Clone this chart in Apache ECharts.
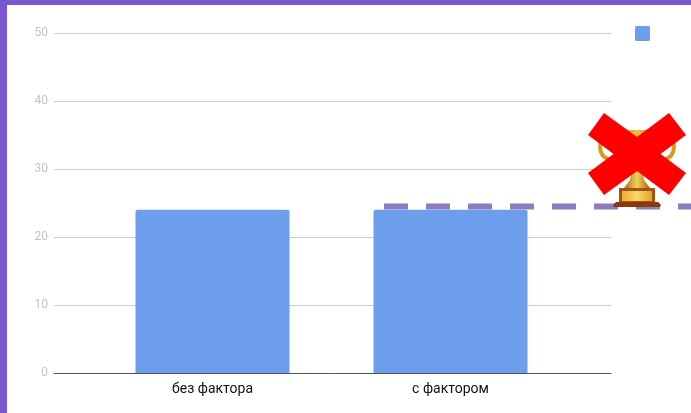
<!DOCTYPE html>
<html><head><meta charset="utf-8">
<style>html,body{margin:0;padding:0;background:#fff}#c{width:691px;height:413px}</style>
<script src="https://cdn.jsdelivr.net/npm/echarts@6/dist/echarts.min.js"></script>
</head><body><div id="c"></div>
<script>
const categories = ['без фактора', 'с фактором'];
const barValues = [24, 24];
const targetValue = 24.5;
const yMax = 50;
const yInterval = 10;

const chart = echarts.init(document.getElementById('c'), null, {renderer: 'canvas'});
const gold = (a, b, c) => ({type: 'linear', x: 0, y: 0, x2: 1, y2: 0, colorStops: [
  {offset: 0, color: a}, {offset: 0.5, color: b}, {offset: 1, color: c}]});
const poly = (points, fill) => ({type: 'polygon', shape: {points}, style: {fill}, silent: true, z: 20});
const curve = (points) => ({type: 'polyline', shape: {points, smooth: 0.5},
  style: {stroke: '#d79a1c', lineWidth: 4, fill: 'none'}, silent: true, z: 20});

chart.setOption({
  animation: false,
  backgroundColor: '#ffffff',
  textStyle: {fontFamily: 'Roboto'},
  legend: {
    left: 635, top: 26, padding: 0, itemWidth: 15, itemHeight: 15, itemGap: 0,
    data: [{name: 'значение', icon: 'path://M1.5 0H13.5Q15 0 15 1.5V13.5Q15 15 13.5 15H1.5Q0 15 0 13.5V1.5Q0 0 1.5 0Z'}],
    formatter: () => '', selectedMode: false
  },
  grid: [
    {left: 54, top: 33, width: 557, height: 340},
    {left: 93.5, top: 33, width: 476, height: 340},
    {left: 384, top: 33, width: 307, height: 340}
  ],
  xAxis: [
    {gridIndex: 0, type: 'category', data: ['', ''], axisTick: {show: false}, axisLabel: {show: false},
     axisLine: {lineStyle: {color: '#555555', width: 1}}, z: 5},
    {gridIndex: 1, type: 'category', data: categories, axisTick: {show: false},
     axisLine: {show: false},
     axisLabel: {color: '#111111', fontSize: 14, fontFamily: 'Roboto', margin: 9}},
    {gridIndex: 2, type: 'value', min: 0, max: 1, show: false}
  ],
  yAxis: [
    {gridIndex: 0, type: 'value', min: 0, max: yMax, interval: yInterval,
     axisLine: {show: false}, axisTick: {show: false},
     axisLabel: {color: '#c4c4c4', fontSize: 12, fontFamily: 'Roboto', margin: 6, padding: [4, 0, 0, 0]},
     splitLine: {lineStyle: {color: '#cccccc', width: 1}}},
    {gridIndex: 1, type: 'value', min: 0, max: yMax, interval: yInterval, show: false},
    {gridIndex: 2, type: 'value', min: 0, max: yMax, interval: yInterval, show: false}
  ],
  series: [
    {name: 'значение', type: 'bar', xAxisIndex: 1, yAxisIndex: 1, data: barValues,
     barWidth: 154, itemStyle: {color: '#6d9eeb', borderRadius: [2, 2, 0, 0]}, z: 3},
    {name: 'цель', type: 'line', xAxisIndex: 2, yAxisIndex: 2,
     data: [[0, targetValue], [1, targetValue]], symbol: 'none', silent: true, z: 4,
     lineStyle: {color: '#8e7cc3', width: 6, type: [24, 18], cap: 'butt'}}
  ],
  graphic: [
    {type: 'rect', shape: {x: 0, y: 0, width: 691, height: 5}, style: {fill: '#7a56d3'}, silent: true, z: 30},
    {type: 'rect', shape: {x: 0, y: 0, width: 7, height: 413}, style: {fill: '#7a56d3'}, silent: true, z: 30},
    // trophy: handles, cup, stem, base
    curve([[601, 141], [601, 152], [608, 159], [622, 163]]),
    curve([[673, 141], [673, 152], [666, 159], [652, 163]]),
    poly([[614, 130], [660, 130], [659, 145], [654, 158], [642, 172], [632, 172], [620, 158], [615, 145]], gold('#b9770f', '#f0c040', '#a86a0c')),
    poly([[631, 171], [643, 171], [644, 180], [650, 188], [624, 188], [630, 180]], gold('#a86e10', '#f3cf5a', '#a06808')),
    poly([[619, 188], [655, 188], [655, 203], [619, 203]], '#a3531a'),
    poly([[622, 191], [652, 191], [652, 201], [622, 201]], gold('#e8b030', '#fbd968', '#e0a428')),
    poly([[616, 202], [658, 202], [661, 205], [660, 207], [614, 207], [613, 205]], '#8a3a0a'),
    // red cross
    {type: 'polygon', silent: true, z: 25, style: {fill: '#ff0000'}, shape: {points: [
      [604, 113], [637, 137], [669, 113], [686, 135], [660.5, 154], [686, 173],
      [669, 195], [637, 171], [604, 195], [588, 173], [613.5, 154], [588, 135]
    ]}}
  ]
});
</script></body></html>
